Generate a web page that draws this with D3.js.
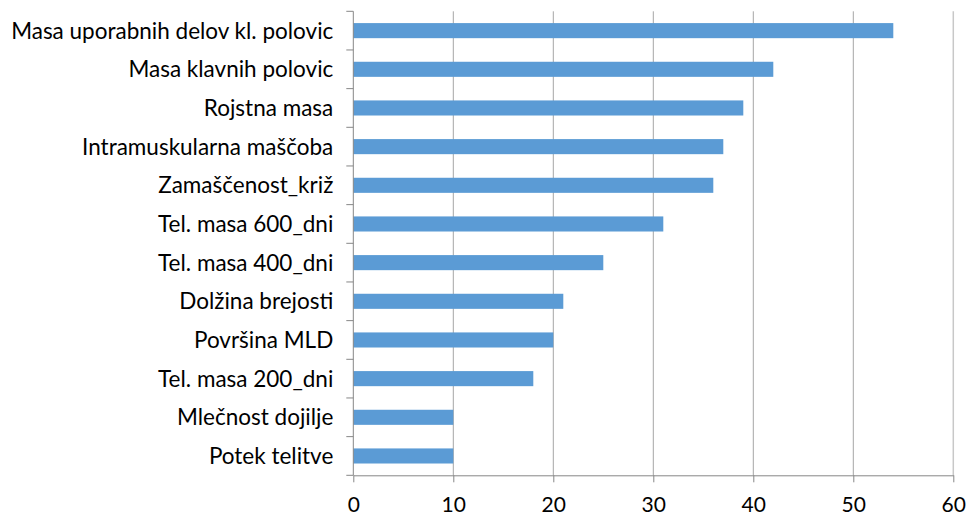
<!DOCTYPE html>
<html>
<head>
<meta charset="UTF-8">
<title>chart</title>
<script src="https://cdn.jsdelivr.net/npm/d3@7"></script>
<style>
  body { margin: 0; background: #fff; }
  text { font-family: Lato, "Open Sans", sans-serif; fill: #000; }
</style>
</head>
<body>
<svg width="968" height="515"></svg>
<script>
// data
var categories = ["Masa uporabnih delov kl. polovic", "Masa klavnih polovic", "Rojstna masa",
  "Intramuskularna maščoba", "Zamaščenost_križ", "Tel. masa 600_dni", "Tel. masa 400_dni",
  "Dolžina brejosti", "Površina MLD", "Tel. masa 200_dni", "Mlečnost dojilje", "Potek telitve"];
var values = [54, 42, 39, 37, 36, 31, 25, 21, 20, 18, 10, 10];
var xTicks = [0, 10, 20, 30, 40, 50, 60];

var marge = {top: 11.3, right: 15, bottom: 40, left: 353.3};
var svg = d3.select("svg");
var width = +svg.attr("width"), height = +svg.attr("height");
var w = 953.3 - marge.left, h = 475.3 - marge.top;

var g = svg.append("g").attr("transform", "translate(" + marge.left + "," + marge.top + ")");

var x = d3.scaleLinear().domain([0, 60]).range([0, w]);
var y = d3.scaleBand().domain(categories).range([0, h]).paddingInner(0.61).paddingOuter(0.305);

// gridlines
g.append("g").selectAll("line")
  .data(xTicks.slice(1))
  .enter().append("line")
  .attr("x1", d => x(d)).attr("x2", d => x(d))
  .attr("y1", 0).attr("y2", h)
  .attr("stroke", function(d){ return d === 60 ? "#c8c8c8" : "#a6a6a6"; })
  .attr("stroke-width", d => d === 60 ? 1.5 : 1);

// bars
g.append("g").selectAll("rect")
  .data(values)
  .enter().append("rect")
  .attr("x", 0)
  .attr("y", (d, i) => y(categories[i]))
  .attr("width", d => x(d))
  .attr("height", y.bandwidth())
  .attr("fill", "#5b9bd5");

// x axis
var xAxis = g.append("g")
  .attr("transform", "translate(0," + h + ")")
  .call(d3.axisBottom(x).tickValues(xTicks).tickSize(7).tickPadding(15).tickSizeOuter(0));
xAxis.select(".domain").attr("stroke", "#868686");
xAxis.selectAll(".tick line").attr("stroke", "#868686");
xAxis.selectAll("text").style("font-size", "21px").attr("fill", "#000");

// y axis: ticks on category boundaries
var yLine = g.append("g");
yLine.append("line").attr("x1", 0).attr("x2", 0).attr("y1", 0).attr("y2", h).attr("stroke", "#868686");
yLine.selectAll(".bt")
  .data(d3.range(categories.length + 1))
  .enter().append("line")
  .attr("class", "bt")
  .attr("x1", -7).attr("x2", 0)
  .attr("y1", d => d * h / categories.length).attr("y2", d => d * h / categories.length)
  .attr("stroke", "#868686");

g.append("g").selectAll("text")
  .data(categories)
  .enter().append("text")
  .attr("x", -20)
  .attr("y", d => y(d) + y.bandwidth() / 2)
  .attr("dy", "0.36em")
  .attr("text-anchor", "end")
  .style("font-size", "22.5px")
  .text(d => d);
</script>
</body>
</html>
